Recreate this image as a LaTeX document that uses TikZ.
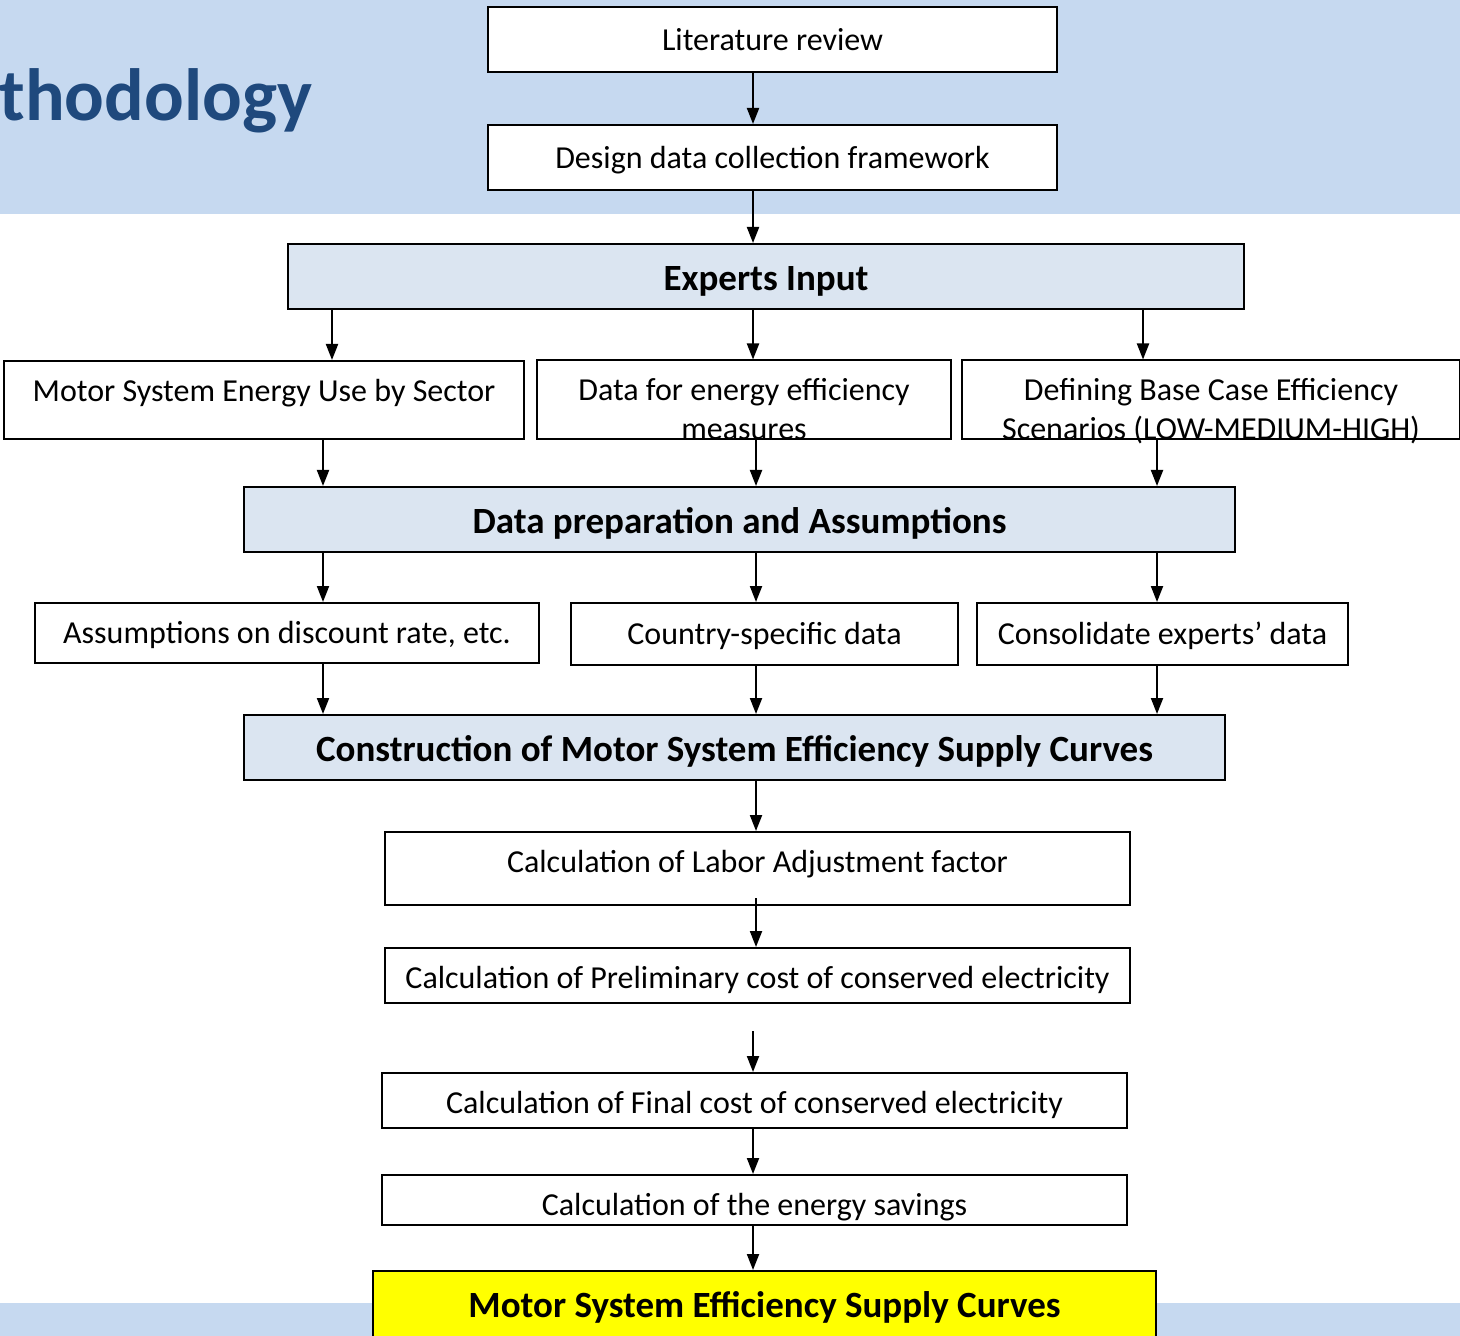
\documentclass[tikz,border=0pt]{standalone}
\usepackage{fontspec}
\setmainfont{Carlito}
\usepackage{tikz}
\usetikzlibrary{arrows.meta,positioning}
\definecolor{mbgblue}{RGB}{198,217,240}
\definecolor{mheadblue}{RGB}{219,229,241}
\definecolor{mtitleblue}{RGB}{31,73,125}
\definecolor{myellow}{RGB}{255,255,0}
\tikzstyle{arrow} = [line width=1pt,-{Triangle[length=8pt,width=6pt]}]
\tikzstyle{stepbox} = [rectangle, draw=black, line width=1pt, fill=white, inner sep=0pt, align=center, font=\fontsize{16}{19.5}\selectfont, text height=13.6pt, text depth=3pt]
\tikzstyle{headbox} = [stepbox, fill=mheadblue, font=\bfseries\fontsize{18.5}{22}\selectfont, text height=16.5pt, text depth=2.8pt]

\begin{document}
\begin{tikzpicture}[x=0.5pt, y=-0.5pt]
\useasboundingbox (0,0) rectangle (1460,1336);
\clip (0,0) rectangle (1460,1336);

% Slide background
\fill[mbgblue] (0,0) rectangle (1460,214);
\fill[mbgblue] (0,1303) rectangle (1460,1336);
\node[anchor=base west, inner sep=0pt, text=mtitleblue, font=\bfseries\fontsize{37}{42}\selectfont] (title) at (-1,121) {thodology};

% Top steps
\node[stepbox, minimum width=284.5pt, minimum height=32.5pt] (lit) at (772.5,39.5) {Literature review};
\node[stepbox, minimum width=284.5pt, minimum height=32.5pt] (design) at (772.5,157.5) {Design data collection framework};
\node[headbox, minimum width=478pt, minimum height=32.5pt] (experts) at (766,276.5) {Experts Input};

% Expert inputs
\node[stepbox, minimum width=260pt, minimum height=39pt, text height=11pt, text depth=9.4pt] (usesector) at (264,400) {Motor System Energy Use by Sector};
\node[stepbox, minimum width=207pt, minimum height=39pt, text height=39.5pt, text depth=-1.1pt] (measures) at (744,400) {Data for energy efficiency\\measures};
\node[stepbox, minimum width=249pt, minimum height=39pt, text height=39.5pt, text depth=-1.1pt] (scenarios) at (1211,400) {Defining Base Case Efficiency\\Scenarios (LOW-MEDIUM-HIGH)};
\node[headbox, minimum width=495.5pt, minimum height=32.5pt] (dataprep) at (739.5,519.5) {Data preparation and Assumptions};

% Preparation
\node[stepbox, minimum width=252pt, minimum height=30pt] (discount) at (287,633) {Assumptions on discount rate, etc.};
\node[stepbox, minimum width=193.5pt, minimum height=31pt] (country) at (764.5,634) {Country-specific data};
\node[stepbox, minimum width=185.5pt, minimum height=31pt] (consol) at (1162.5,634) {Consolidate experts’ data};
\node[headbox, minimum width=490.5pt, minimum height=32.5pt] (construct) at (734.5,747.5) {Construction of Motor System Efficiency Supply Curves};

% Calculation steps
\node[stepbox, minimum width=372.5pt, minimum height=36.5pt, text height=12pt, text depth=7.9pt] (labor) at (757.5,868.5) {Calculation of Labor Adjustment factor};
\node[stepbox, minimum width=372.5pt, minimum height=27.5pt, text height=15pt, text depth=1.9pt] (prelim) at (757.5,975.5) {Calculation of Preliminary cost of conserved electricity};
\node[stepbox, minimum width=372.5pt, minimum height=27.5pt, text height=15pt, text depth=1.9pt] (final) at (754.5,1100.5) {Calculation of Final cost of conserved electricity};
\node[stepbox, minimum width=372.5pt, minimum height=25pt, text height=16pt, text depth=0.4pt] (savings) at (754.5,1200) {Calculation of the energy savings};
\node[headbox, fill=myellow, minimum width=391.5pt, minimum height=34.5pt, text height=15pt] (result) at (764.5,1305.5) {Motor System Efficiency Supply Curves};

% Arrow columns
\coordinate (colA) at (332,0);
\coordinate (colB) at (753,0);
\coordinate (colC) at (1143,0);
\coordinate (colD) at (323,0);
\coordinate (colE) at (756,0);
\coordinate (colF) at (1157,0);
\coordinate (gap) at (753,1031);

% Arrows
\draw[arrow] (colB |- lit.south) -- (colB |- design.north);
\draw[arrow] (colB |- design.south) -- (colB |- experts.north);
\draw[arrow] (colA |- experts.south) -- (colA |- usesector.north);
\draw[arrow] (colB |- experts.south) -- (colB |- measures.north);
\draw[arrow] (colC |- experts.south) -- (colC |- scenarios.north);
\draw[arrow] (colD |- usesector.south) -- (colD |- dataprep.north);
\draw[arrow] (colE |- measures.south) -- (colE |- dataprep.north);
\draw[arrow] (colF |- scenarios.south) -- (colF |- dataprep.north);
\draw[arrow] (colD |- dataprep.south) -- (colD |- discount.north);
\draw[arrow] (colE |- dataprep.south) -- (colE |- country.north);
\draw[arrow] (colF |- dataprep.south) -- (colF |- consol.north);
\draw[arrow] (colD |- discount.south) -- (colD |- construct.north);
\draw[arrow] (colE |- country.south) -- (colE |- construct.north);
\draw[arrow] (colF |- consol.south) -- (colF |- construct.north);
\draw[arrow] (colE |- construct.south) -- (colE |- labor.north);
\draw[arrow, shorten <=-4pt] (colE |- labor.south) -- (colE |- prelim.north);
\draw[arrow] (gap) -- (gap |- final.north);
\draw[arrow] (colB |- final.south) -- (colB |- savings.north);
\draw[arrow] (colB |- savings.south) -- (colB |- result.north);
\end{tikzpicture}
\end{document}
